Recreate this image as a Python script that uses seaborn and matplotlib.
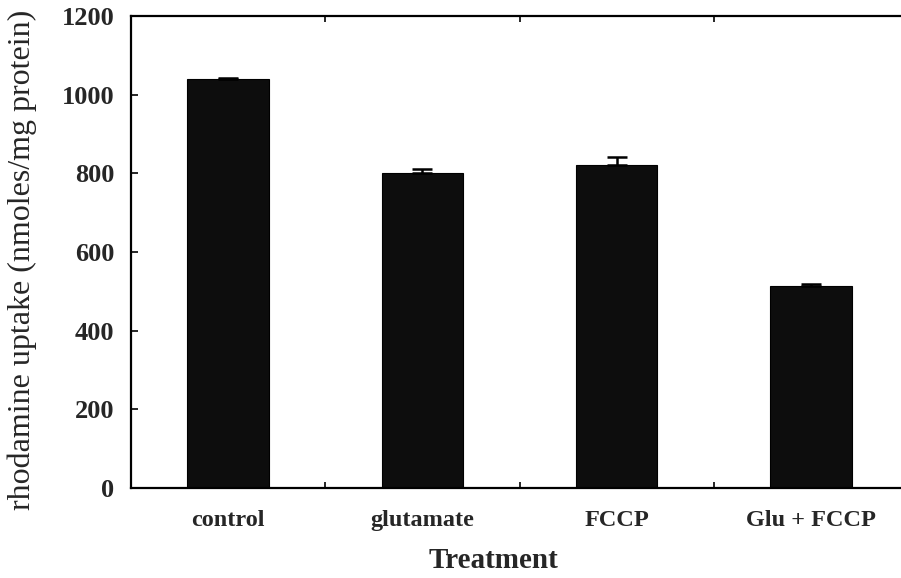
import matplotlib
matplotlib.use("Agg")
import matplotlib.pyplot as plt
from matplotlib.ticker import FixedLocator
import seaborn as sns
import pandas as pd

# Rhodamine uptake by treatment (mean, upper SEM)
treatments = ["control", "glutamate", "FCCP", "Glu + FCCP"]
uptake = [1040, 800, 820, 514]
sem = [3, 10, 22, 5]
y_ticks = [0, 200, 400, 600, 800, 1000, 1200]

sns.set_theme(style="white")
plt.rcParams["font.family"] = ["Liberation Serif", "DejaVu Serif"]

df = pd.DataFrame({"treatment": treatments, "uptake": uptake})

fig = plt.figure(figsize=(9.01, 5.78), dpi=100)
ax = fig.add_axes([0.1454, 0.1557, 0.8624, 0.8166])

sns.barplot(data=df, x="treatment", y="uptake", order=treatments,
            color="#0d0d0d", width=0.42, errorbar=None, ax=ax,
            saturation=1, edgecolor="#000000", linewidth=0.8)

# upper error bars only
ax.errorbar(range(len(treatments)), uptake,
            yerr=[[0] * len(sem), sem], fmt="none",
            ecolor="#000000", elinewidth=1.8, capsize=7.5, capthick=1.8,
            zorder=3)

ax.set_xlim(-0.5, len(treatments) - 0.5)
ax.set_ylim(0, 1200)
ax.yaxis.set_major_locator(FixedLocator(y_ticks))

for side in ["left", "bottom", "top", "right"]:
    ax.spines[side].set_color("#000000")
    ax.spines[side].set_linewidth(1.6)

ax.tick_params(axis="y", direction="in", length=5, width=1.4,
               left=True, right=False, pad=12, labelsize=19)
ax.tick_params(axis="x", which="major", length=0, pad=16, labelsize=17.5)
ax.xaxis.set_minor_locator(FixedLocator([0.5, 1.5, 2.5]))
ax.tick_params(axis="x", which="minor", direction="in", length=4,
               width=1.4, bottom=True, top=True)

for lab in ax.get_xticklabels() + ax.get_yticklabels():
    lab.set_fontweight("bold")

ax.set_xlabel("Treatment", fontsize=21, fontweight="bold")
ax.xaxis.set_label_coords(0.466, -0.126)
ax.set_ylabel("rhodamine uptake (nmoles/mg protein)", fontsize=23)
ax.yaxis.set_label_coords(-0.121, 0.483)

fig.savefig("out.png", dpi=100)
